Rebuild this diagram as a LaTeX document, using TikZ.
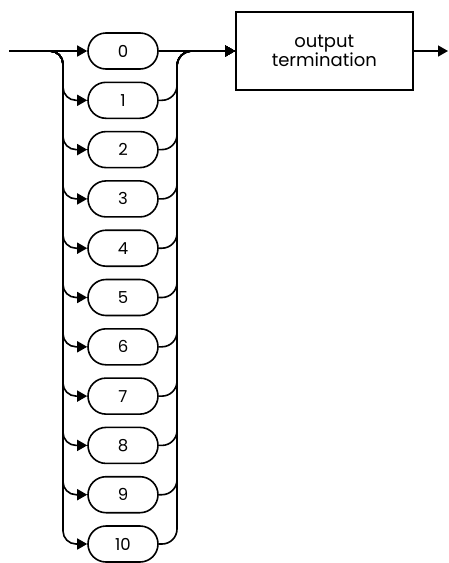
\documentclass[tikz,border=0pt]{standalone}
\usepackage{fontspec}
\setmainfont{Poppins}
\usetikzlibrary{arrows.meta}
\begin{document}
\begin{tikzpicture}[x=1pt,y=-1pt,
  line width=1.6pt,
  arr/.style={-{Triangle[length=10pt,width=11pt]}},
  pill/.style={draw, rectangle, rounded corners=18pt, minimum width=70pt, minimum height=36pt, inner sep=0pt, font=\fontsize{16.5}{17}\selectfont},
  boxnode/.style={draw, rectangle, minimum width=177pt, minimum height=78pt, inner sep=0pt, align=center, font=\fontsize{18}{17}\selectfont}]
\useasboundingbox (0,0) rectangle (448,563);
\coordinate (start) at (9,51);
\coordinate (lrail) at (63,51);
\coordinate (rrail) at (177,51);
\coordinate (end) at (448,51);
\foreach \i in {0,...,10} {
  \node[pill] (p\i) at (123,{51+49.3*\i}) {\i};
}
\node[boxnode] (box) at (324.3,51) {output\\termination};
\draw[arr] (start) -- (p0);
\foreach \i in {1,...,10} {
  \draw[arr, rounded corners=13pt] (start) -| (lrail |- p\i.west) -- (p\i.west);
  \draw[arr, rounded corners=15pt] (p\i.east) -| (rrail) -- (box.west);
}
\draw[arr] (p0) -- (box);
\draw[arr] (box) -- (end);
\end{tikzpicture}
\end{document}
